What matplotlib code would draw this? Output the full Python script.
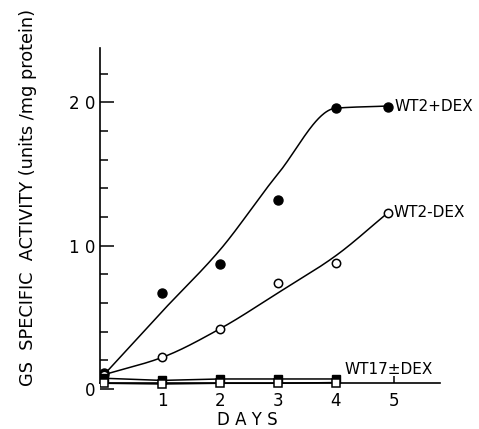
import numpy as np
import matplotlib
matplotlib.use("Agg")
import matplotlib.pyplot as plt

# ---- data ----
days_pts = [0, 1, 2, 3, 4, 4.9]
wt2_dex_pos = [1.1, 6.7, 8.7, 13.2, 19.6, 19.7]
wt2_dex_neg = [1.0, 2.2, 4.2, 7.4, 8.8, 12.3]

curve_x = [0, 1, 2, 3, 4, 4.9]
curve_pos = [1.0, 5.4, 9.7, 15.0, 19.6, 19.75]
curve_neg = [1.0, 2.2, 4.2, 6.7, 9.3, 12.3]

wt17_days = [0, 1, 2, 3, 4]
wt17_dex_pos = [0.75, 0.6, 0.7, 0.7, 0.7]
wt17_dex_neg = [0.4, 0.35, 0.4, 0.4, 0.45]

x_ticks = [1, 2, 3, 4, 5]
y_major = [0, 10, 20]
y_minor = [2, 4, 6, 8, 12, 14, 16, 18, 22]


def pchip(x, y, xs):
    x = np.asarray(x, float); y = np.asarray(y, float)
    h = np.diff(x); d = np.diff(y) / h
    m = np.zeros_like(y)
    for k in range(1, len(x) - 1):
        if d[k - 1] * d[k] > 0:
            w1 = 2 * h[k] + h[k - 1]; w2 = h[k] + 2 * h[k - 1]
            m[k] = (w1 + w2) / (w1 / d[k - 1] + w2 / d[k])
    m[0] = d[0]; m[-1] = d[-1]
    out = np.empty_like(xs)
    for i, xv in enumerate(xs):
        k = min(max(np.searchsorted(x, xv) - 1, 0), len(x) - 2)
        t = (xv - x[k]) / h[k]
        h00 = 2*t**3 - 3*t**2 + 1; h10 = t**3 - 2*t**2 + t
        h01 = -2*t**3 + 3*t**2; h11 = t**3 - t**2
        out[i] = h00*y[k] + h10*h[k]*m[k] + h01*y[k+1] + h11*h[k]*m[k+1]
    return out


fig = plt.figure(figsize=(4.79, 4.29), dpi=100)
W, H = 479, 429
left, right, top, bottom = 100, 440, 48, 389
ax = fig.add_axes([left / W, (H - bottom) / H, (right - left) / W, (bottom - top) / H])
ax.set_xlim(-0.07, 5.8)
ax.set_ylim(0, 23.8)

lw = 1.1
xs = np.linspace(0, 4.9, 300)
ax.plot(xs, pchip(curve_x, curve_pos, xs), color='black', lw=lw)
ax.plot(xs, pchip(curve_x, curve_neg, xs), color='black', lw=lw)
ax.plot(wt17_days, wt17_dex_pos, color='black', lw=lw)
ax.plot(wt17_days, wt17_dex_neg, color='black', lw=lw)

ax.plot(days_pts, wt2_dex_pos, 'o', color='black', ms=6.5, zorder=5)
ax.plot(days_pts, wt2_dex_neg, 'o', mfc='white', mec='black', mew=1.1, ms=6, zorder=5)
ax.plot(wt17_days, wt17_dex_pos, 's', color='black', ms=6, zorder=5)
ax.plot(wt17_days, wt17_dex_neg, 's', mfc='white', mec='black', mew=1.1, ms=5.5, zorder=6)

for s in ['top', 'right']:
    ax.spines[s].set_visible(False)
ax.spines['bottom'].set_position(('data', 0.4))
ax.spines['left'].set_bounds(0.4, 23.8)
for s in ['left', 'bottom']:
    ax.spines[s].set_linewidth(1.2)

ax.set_xticks(x_ticks)
ax.set_xticklabels([str(v) for v in x_ticks], fontsize=12)
ax.set_yticks(y_major)
ax.set_yticklabels(['0', '1 0', '2 0'], fontsize=12)
ax.set_yticks(y_minor, minor=True)
ax.tick_params(axis='y', which='major', direction='in', length=10, width=1.1, pad=3)
ax.tick_params(axis='y', which='minor', direction='in', length=6, width=1.1)
ax.tick_params(axis='x', which='major', direction='in', length=5, width=1.1, pad=6)

ax.text(5.02, 19.7, 'WT2+DEX', fontsize=11, va='center', ha='left')
ax.text(5.0, 12.3, 'WT2-DEX', fontsize=11, va='center', ha='left')
ax.text(4.15, 1.35, 'WT17±DEX', fontsize=11, va='center', ha='left')

fig.text(247 / W, 1 - 420 / H, 'D A Y S', fontsize=12, ha='center', va='center')
fig.text(28 / W, 1 - 197 / H, 'GS  SPECIFIC  ACTIVITY (units /mg protein)', fontsize=12.8,
         rotation=90, ha='center', va='center')

fig.savefig('out.png', dpi=100)
